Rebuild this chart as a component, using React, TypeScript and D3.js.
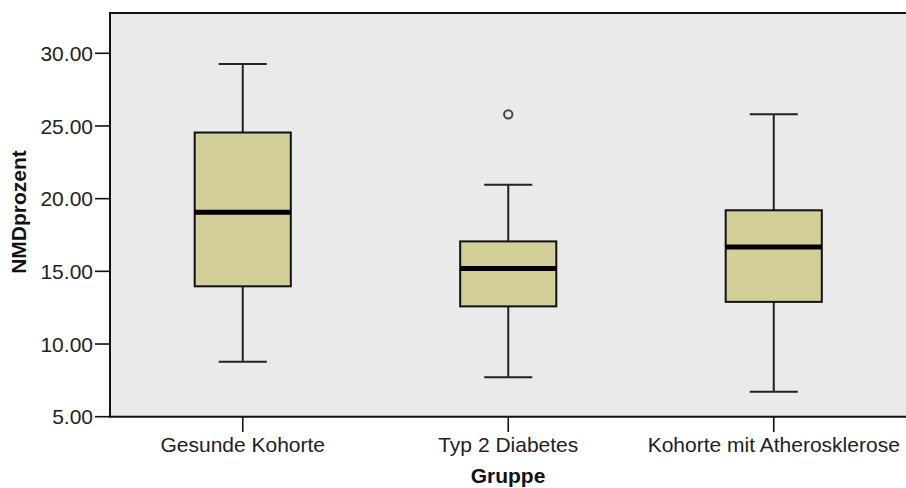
import React from "react";
import * as d3 from "d3";

// Group categories and their box-plot statistics (NMD in percent)
const groups = ["Gesunde Kohorte", "Typ 2 Diabetes", "Kohorte mit Atherosklerose"];
const whiskerLow = [8.78, 7.71, 6.72];
const q1 = [13.97, 12.59, 12.9];
const median = [19.06, 15.19, 16.68];
const q3 = [24.55, 17.06, 19.2];
const whiskerHigh = [29.26, 20.96, 25.8];
const outliers = [[], [25.8], []] as number[][];
const yTicks = [5, 10, 15, 20, 25, 30];

const W = 906;
const H = 488;
const plotLeft = 110;
const plotTop = 13;
const plotRight = 906.5;
const plotBottom = 416.7;
const FONT = "'Liberation Sans', Arial, sans-serif";

export default function App() {
  const x = d3.scaleBand<string>().domain(groups).range([plotLeft, plotRight]).paddingInner(0).paddingOuter(0);
  const y = d3.scaleLinear().domain([5, 30]).range([plotBottom, 53.3]);
  const boxW = x.step() * 0.362;
  const capW = boxW / 2;

  return (
    <svg
      width={W}
      height={H}
      style={{ position: "absolute", left: 0, top: 0, background: "#fff" }}
      fontFamily={FONT}
    >
      <rect x={plotLeft} y={plotTop} width={plotRight - plotLeft} height={plotBottom - plotTop} fill="#eaeaea" />
      {/* plot frame */}
      <path
        d={`M${plotRight},${plotTop}H${plotLeft}V${plotBottom}H${plotRight}`}
        fill="none"
        stroke="#111"
        strokeWidth={2}
      />
      {/* y axis ticks and labels */}
      {yTicks.map((t) => (
        <g key={t}>
          <line x1={95} x2={plotLeft} y1={y(t)} y2={y(t)} stroke="#111" strokeWidth={1.6} />
          <text x={93} y={y(t)} dy="0.36em" textAnchor="end" fontSize={21} fill="#222">
            {d3.format(".2f")(t)}
          </text>
        </g>
      ))}
      {/* x axis ticks and labels */}
      {groups.map((g) => {
        const cx = x(g)! + x.bandwidth() / 2;
        return (
          <g key={g}>
            <line x1={cx} x2={cx} y1={plotBottom} y2={432} stroke="#111" strokeWidth={1.6} />
            <text x={cx} y={452} textAnchor="middle" fontSize={21} fill="#222">
              {g}
            </text>
          </g>
        );
      })}
      {/* box plots */}
      {groups.map((g, i) => {
        const cx = x(g)! + x.bandwidth() / 2;
        return (
          <g key={g}>
            <line x1={cx} x2={cx} y1={y(whiskerHigh[i])} y2={y(q3[i])} stroke="#222" strokeWidth={2} />
            <line x1={cx} x2={cx} y1={y(q1[i])} y2={y(whiskerLow[i])} stroke="#222" strokeWidth={2} />
            <line x1={cx - capW / 2} x2={cx + capW / 2} y1={y(whiskerHigh[i])} y2={y(whiskerHigh[i])} stroke="#222" strokeWidth={2} />
            <line x1={cx - capW / 2} x2={cx + capW / 2} y1={y(whiskerLow[i])} y2={y(whiskerLow[i])} stroke="#222" strokeWidth={2} />
            <rect
              x={cx - boxW / 2}
              y={y(q3[i])}
              width={boxW}
              height={y(q1[i]) - y(q3[i])}
              fill="#d3cf99"
              stroke="#111"
              strokeWidth={2}
            />
            <line x1={cx - boxW / 2} x2={cx + boxW / 2} y1={y(median[i])} y2={y(median[i])} stroke="#000" strokeWidth={5} />
            {outliers[i].map((o, k) => (
              <circle key={k} cx={cx} cy={y(o)} r={4.2} fill="none" stroke="#444" strokeWidth={2} />
            ))}
          </g>
        );
      })}
      {/* axis titles */}
      <text x={508} y={483} textAnchor="middle" fontSize={21} fontWeight="bold" fill="#111">
        Gruppe
      </text>
      <text
        transform={`translate(26,212) rotate(-90)`}
        textAnchor="middle"
        fontSize={21}
        fontWeight="bold"
        fill="#111"
      >
        NMDprozent
      </text>
    </svg>
  );
}
